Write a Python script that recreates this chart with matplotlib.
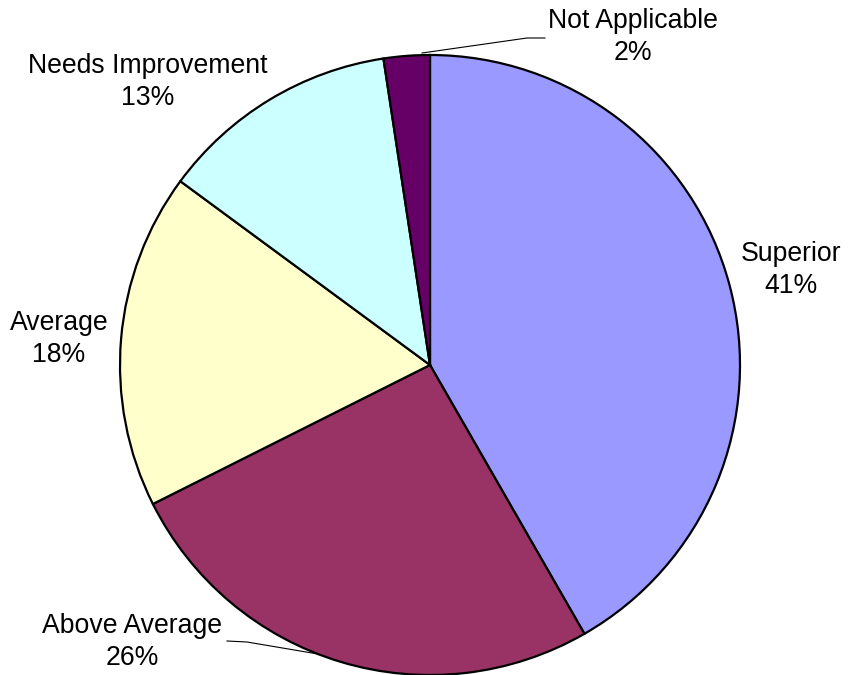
import matplotlib
matplotlib.use("Agg")
import matplotlib.pyplot as plt

categories = ["Superior", "Above Average", "Average", "Needs Improvement", "Not Applicable"]
values = [41.7, 25.9, 17.5, 12.5, 2.4]
pct_labels = ["41%", "26%", "18%", "13%", "2%"]
colors = ["#9999FF", "#993366", "#FFFFCC", "#CCFFFF", "#660066"]

plt.rcParams['font.family'] = ['Liberation Sans', 'DejaVu Sans']

W, H = 848, 675
fig = plt.figure(figsize=(W / 100, H / 100), dpi=100)
ax = fig.add_axes([0, 0, 1, 1])

ax.pie(values, colors=colors, startangle=90, counterclock=False,
       center=(430, 310), radius=310,
       wedgeprops=dict(edgecolor="black", linewidth=1.6))
ax.set_xlim(0, W)
ax.set_ylim(0, H)
ax.set_aspect("equal")
ax.axis("off")

label_pos = [(791, 405), (132, 33), (59, 336), (148, 593), (633, 638)]
for name, pct, (x, y) in zip(categories, pct_labels, label_pos):
    ax.text(x, y, f"{name}\n{pct}", ha="center", va="center",
            ma="center", fontsize=19.2, linespacing=1.3, color="black")

# leader lines
ax.plot([422, 527, 545], [H - 53, H - 38, H - 38], color="black", lw=0.8)
ax.plot([227, 247, 318], [H - 641, H - 642, H - 654], color="black", lw=0.8)

fig.savefig("out.png", dpi=100)
